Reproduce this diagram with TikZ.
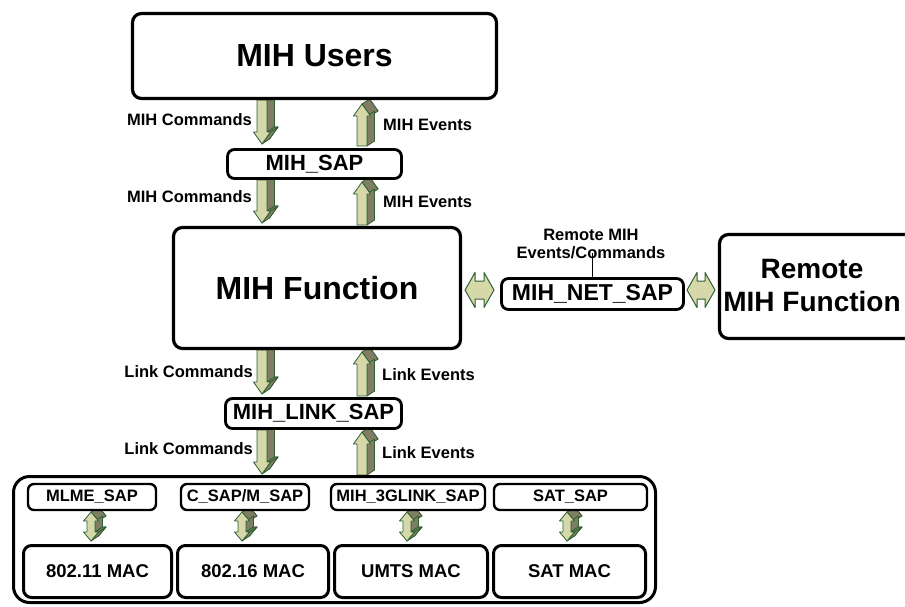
\documentclass[tikz,border=0pt]{standalone}
\usepackage{fontspec}
\setmainfont{Liberation Sans}
\usetikzlibrary{calc}
\pgfdeclarelayer{bg}
\pgfsetlayers{bg,main}

\definecolor{arrfront}{RGB}{214,216,170}
\definecolor{arrside}{RGB}{128,126,98}
\definecolor{arredge}{RGB}{45,95,50}

\newcommand{\fsz}[1]{\fontsize{#1}{#1}\selectfont\bfseries}

\tikzset{
  boxbase/.style={draw, fill=white, inner sep=0pt, align=center},
  bigbox/.style={boxbase, line width=3.2pt, rounded corners=9pt, font=\fsz{32}},
  remotebox/.style={boxbase, line width=3.2pt, rounded corners=9pt},
  sapbox/.style={boxbase, line width=2.8pt, rounded corners=7pt, font=\fsz{22}},
  netbox/.style={boxbase, line width=2.8pt, rounded corners=7pt, font=\fsz{23}},
  smallsap/.style={boxbase, line width=2.4pt, rounded corners=6pt, font=\fsz{16.5}},
  macbox/.style={boxbase, line width=3pt, rounded corners=8pt, font=\fsz{18.5}},
  outerbox/.style={draw, line width=3pt, rounded corners=16pt},
  lbl/.style={inner sep=0pt, font=\fsz{16.5}},
  arrback/.style={fill=arrside, draw=arredge, line width=0.8pt, line join=round},
  arrface/.style={fill=arrfront, draw=arredge, line width=0.8pt, line join=round},
}

% extrusion of the block arrows (right and up)
\def\ex{7.5}\def\ey{-5}

% side face of a block arrow between two corners
\newcommand{\arrquad}[4]{\filldraw[arrback] (#1,#2) -- (#3,#4) -- ++(\ex,\ey) -- ({#1+\ex},{#2+\ey}) -- cycle;}

% downward block arrow: centre x, top y, tip y
\newcommand{\dnpoly}[1]{\filldraw[#1] (\xa,\yb) -- (\xb,\yh) -- (\xc,\yh) -- (\xc,\yt) -- (\xf,\yt) -- (\xf,\yh) -- (\xg,\yh) -- cycle;}
\newcommand{\arrdn}[3]{%
  \pgfmathsetmacro\xa{#1}\pgfmathsetmacro\xb{#1+8.5}\pgfmathsetmacro\xc{#1+5}%
  \pgfmathsetmacro\xf{#1-5}\pgfmathsetmacro\xg{#1-8.5}%
  \pgfmathsetmacro\yt{#2}\pgfmathsetmacro\yb{#3}\pgfmathsetmacro\yh{#3-12}%
  \dnpoly{arrback,shift={(\ex,\ey)}}%
  \arrquad{\xa}{\yb}{\xb}{\yh}\arrquad{\xb}{\yh}{\xc}{\yh}\arrquad{\xc}{\yh}{\xc}{\yt}%
  \dnpoly{arrface}}

% upward block arrow: centre x, tip y, bottom y
\newcommand{\uppoly}[1]{\filldraw[#1] (\xa,\yt) -- (\xb,\yh) -- (\xc,\yh) -- (\xc,\yb) -- (\xf,\yb) -- (\xf,\yh) -- (\xg,\yh) -- cycle;}
\newcommand{\arrup}[3]{%
  \pgfmathsetmacro\xa{#1}\pgfmathsetmacro\xb{#1+8.5}\pgfmathsetmacro\xc{#1+5}%
  \pgfmathsetmacro\xf{#1-5}\pgfmathsetmacro\xg{#1-8.5}%
  \pgfmathsetmacro\yt{#2}\pgfmathsetmacro\yb{#3}\pgfmathsetmacro\yh{#2+12}%
  \uppoly{arrback,shift={(\ex,\ey)}}%
  \arrquad{\xa}{\yt}{\xb}{\yh}\arrquad{\xc}{\yh}{\xc}{\yb}%
  \uppoly{arrface}}

% two-headed vertical block arrow: centre x, top tip y, bottom tip y
\newcommand{\udpoly}[1]{\filldraw[#1] (\xa,\yt) -- (\xb,\yh) -- (\xc,\yh) -- (\xc,\yk) -- (\xb,\yk) -- (\xa,\yb) -- (\xg,\yk) -- (\xf,\yk) -- (\xf,\yh) -- (\xg,\yh) -- cycle;}
\newcommand{\arrud}[3]{%
  \pgfmathsetmacro\xa{#1}\pgfmathsetmacro\xb{#1+7.5}\pgfmathsetmacro\xc{#1+4}%
  \pgfmathsetmacro\xf{#1-4}\pgfmathsetmacro\xg{#1-7.5}%
  \pgfmathsetmacro\yt{#2}\pgfmathsetmacro\yb{#3}\pgfmathsetmacro\yh{#2+9}\pgfmathsetmacro\yk{#3-9}%
  \udpoly{arrback,shift={(\ex,\ey)}}%
  \arrquad{\xa}{\yt}{\xb}{\yh}\arrquad{\xc}{\yh}{\xc}{\yk}%
  \arrquad{\xc}{\yk}{\xb}{\yk}\arrquad{\xb}{\yk}{\xa}{\yb}%
  \udpoly{arrface}}

% flat two-headed horizontal arrow: left tip x, right tip x, centre y
\newcommand{\arrlr}[3]{%
  \filldraw[arrface, line width=1pt] (#1,#3) -- ({#1+10},{#3-17.5}) -- ({#1+10},{#3-9}) -- ({#2-10},{#3-9})
    -- ({#2-10},{#3-17.5}) -- (#2,#3) -- ({#2-10},{#3+17.5}) -- ({#2-10},{#3+9})
    -- ({#1+10},{#3+9}) -- ({#1+10},{#3+17.5}) -- cycle;}

\begin{document}
\begin{tikzpicture}[x=1pt,y=-1pt]
\useasboundingbox (0,0) rectangle (905,606);

% upper stack
\node[bigbox, minimum width=364pt, minimum height=85pt] (users) at (314.5,56) {MIH Users};
\node[sapbox, minimum width=174pt, minimum height=29pt] (mihsap) at (314.5,164) {MIH\_SAP};
\node[bigbox, minimum width=287pt, minimum height=121pt] (func) at (317,288) {MIH Function};
\node[sapbox, minimum width=176pt, minimum height=30pt] (linksap) at (313.5,413.5) {MIH\_LINK\_SAP};

% network side; the remote box runs on past the right border
\node[netbox, minimum width=182pt, minimum height=31pt] (netsap) at (592.5,294) {MIH\_NET\_SAP};
\node[remotebox, minimum width=197pt, minimum height=104pt] (remote) at (818,286.5) {};
\node[inner sep=0pt, align=center, font=\fontsize{28}{33}\selectfont\bfseries] (remotetxt) at (812,285) {Remote\\MIH Function};
\node[lbl, align=center, font=\fontsize{16.5}{18}\selectfont\bfseries] (netlbl) at (591,244) {Remote MIH\\Events/Commands};
\coordinate (tick) at (592.5,253);
\draw[line width=1pt] (tick) -- (netsap.north);

% link layer frame
\node[outerbox, minimum width=642pt, minimum height=126pt] (frame) at (334.5,539.5) {};
\node[smallsap, minimum width=128pt, minimum height=26pt] (mlme) at (92,497) {MLME\_SAP};
\node[smallsap, minimum width=128pt, minimum height=26pt] (csap) at (245,497) {C\_SAP/M\_SAP};
\node[smallsap, minimum width=154pt, minimum height=26pt] (glink) at (408,497) {MIH\_3GLINK\_SAP};
\node[smallsap, minimum width=153pt, minimum height=26pt] (satsap) at (570.5,497) {SAT\_SAP};
\node[macbox, minimum width=148pt, minimum height=52pt] (m80211) at (97.5,571.5) {802.11 MAC};
\node[macbox, minimum width=151pt, minimum height=52pt] (m80216) at (253,571.5) {802.16 MAC};
\node[macbox, minimum width=153pt, minimum height=52pt] (umts) at (411,571.5) {UMTS MAC};
\node[macbox, minimum width=152pt, minimum height=52pt] (satmac) at (569.5,571.5) {SAT MAC};

% primitive labels
\node[lbl, anchor=east] (c1) at (252,120) {MIH Commands};
\node[lbl, anchor=west] (e1) at (383,125) {MIH Events};
\node[lbl, anchor=east] (c2) at (252,197) {MIH Commands};
\node[lbl, anchor=west] (e2) at (383,202) {MIH Events};
\node[lbl, anchor=east] (c3) at (253,372) {Link Commands};
\node[lbl, anchor=west] (e3) at (382,375) {Link Events};
\node[lbl, anchor=east] (c4) at (253,449) {Link Commands};
\node[lbl, anchor=west] (e4) at (382,453) {Link Events};

% block arrows, kept behind the boxes
\begin{pgfonlayer}{bg}
  \arrdn{262}{100}{144}
  \arrup{362}{104}{146}
  \arrdn{262}{180}{223}
  \arrup{362}{182}{225}
  \arrdn{262}{350}{394}
  \arrup{362}{352}{396}
  \arrdn{262}{430}{474}
  \arrup{362}{432}{475}
  \arrud{91}{512}{541}
  \arrud{242}{512}{541}
  \arrud{407}{512}{541}
  \arrud{567}{512}{541}
  \arrlr{465}{494}{290}
  \arrlr{687}{715}{290}
\end{pgfonlayer}
\end{tikzpicture}
\end{document}
